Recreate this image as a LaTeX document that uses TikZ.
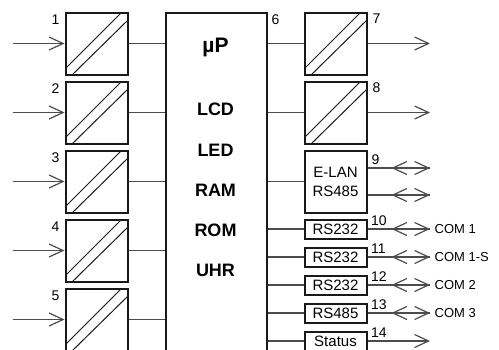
\documentclass[tikz,border=0pt]{standalone}
\usepackage{fontspec}
\setmainfont{Liberation Sans}
\usetikzlibrary{arrows.meta,positioning}

\begin{document}
\begin{tikzpicture}[x=1pt,y=-1pt,node distance = 5pt and 37pt,
    conv/.style={rectangle,minimum size=62pt,inner sep=0pt,line width=2pt,draw=black!90,
        path picture={
            \draw[line width=1pt] ([yshift=6pt]path picture bounding box.south west)
                -- ([xshift=-6pt]path picture bounding box.north east);
            \draw[line width=1pt] ([xshift=7pt]path picture bounding box.south west)
                -- ([yshift=-8pt]path picture bounding box.north east);
        }},
    iface/.style={rectangle,minimum width=62pt,minimum height=19pt,inner sep=0pt,line width=2pt,draw=black!90,font=\fontsize{15}{19}\selectfont},
    unit/.style={anchor=base,font=\fontsize{18}{20}\selectfont\bfseries},
    num/.style={inner sep=0pt,font=\fontsize{14}{16}\selectfont},
    comlabel/.style={inner sep=0pt,font=\fontsize{13}{15}\selectfont},
    conn/.style={line width=1.2pt,black!70},
    barb/.style={-{Straight Barb[length=14pt,width=13pt]}},
   ]

    \useasboundingbox (0,0) rectangle (499,349);
    \clip (0,0) rectangle (499,349);

    \node (c1) [conv] at (96.5,43.5) {};
    \node (c2) [conv,below=of c1] {};
    \node (c3) [conv,below=of c2] {};
    \node (c4) [conv,below=of c3] {};
    \node (c5) [conv,below=of c4] {};

    \node (cpu) [rectangle,minimum width=101pt,minimum height=400pt,line width=2pt,draw=black!90,right=36pt of c1.north east,anchor=north west] {};
    \node (up) [unit,font=\fontsize{21}{24}\selectfont\bfseries] at (215.5,52) {µP};
    \foreach \nm/\txt/\yy in {lcd/LCD/115,led/LED/156,ram/RAM/196,rom/ROM/236.5,uhr/UHR/276.5}
        \node (\nm) [unit] at (215.5,\yy) {\txt};

    \node (c7) [conv] at (335.5,43.5) {};
    \node (c8) [conv,below=of c7] {};
    \node (elan) [iface,minimum height=62pt,align=center,below=of c8] {E-LAN\\RS485};
    \node (s10) [iface,below=5pt of elan] {RS232};
    \node (s11) [iface,below=7pt of s10] {RS232};
    \node (s12) [iface,below=7pt of s11] {RS232};
    \node (s13) [iface,below=7pt of s12] {RS485};
    \node (stat) [iface,below=7pt of s13] {Status};

    \foreach \i in {1,...,5}{
        \coordinate (in\i) at ([xshift=-52pt]c\i.west);
        \draw[conn] (in\i) edge[barb] (c\i.west);
        \draw[conn] (c\i.east) -- (c\i.east -| cpu.west);
        \node (n\i) [num,anchor=north east] at ([xshift=-5pt,yshift=-3pt]c\i.north west) {\i};
    }
    \node (n6) [num,anchor=north west] at ([xshift=4pt,yshift=-3pt]cpu.north east) {6};

    \foreach \i in {7,8}{
        \draw[conn] (c\i.west -| cpu.east) -- (c\i.west);
        \coordinate (t\i) at ([xshift=62.5pt]c\i.east);
        \draw[conn] (c\i.east) edge[barb] (t\i);
        \node (n\i) [num,anchor=north west] at ([xshift=5pt,yshift=-2.5pt]c\i.north east) {\i};
    }

    \foreach \nm in {elan,s10,s11,s12,s13,stat}
        \draw[conn] (\nm.west -| cpu.east) -- (\nm.west);

    \coordinate (e9) at ([yshift=13.5pt]elan.east);
    \coordinate (e9b) at ([yshift=-13.5pt]elan.east);
    \foreach \st/\k in {e9/9a,e9b/9b,s10.east/10,s11.east/11,s12.east/12,s13.east/13}{
        \coordinate (m\k) at ([xshift=24pt]\st);
        \coordinate (t\k) at ([xshift=62.5pt]\st);
        \draw[conn] (\st) edge[barb] (t\k) (t\k) edge[barb] (m\k);
    }
    \coordinate (t14) at ([xshift=62.5pt]stat.east);
    \draw[conn] (stat.east) edge[barb] (t14);

    \node (n9) [num,anchor=south west] at ([xshift=4pt,yshift=3.5pt]e9) {9};
    \foreach \k in {10,...,13}
        \node (n\k) [num,anchor=south west] at ([xshift=3.5pt,yshift=3.5pt]s\k.east) {\k};
    \node (n14) [num,anchor=south west] at ([xshift=3.5pt,yshift=3.5pt]stat.east) {14};

    \foreach \k/\txt in {10/COM 1,11/COM 1-S,12/COM 2,13/COM 3}
        \node (com\k) [comlabel,anchor=west] at ([xshift=4.5pt]t\k) {\txt};
\end{tikzpicture}
\end{document}
